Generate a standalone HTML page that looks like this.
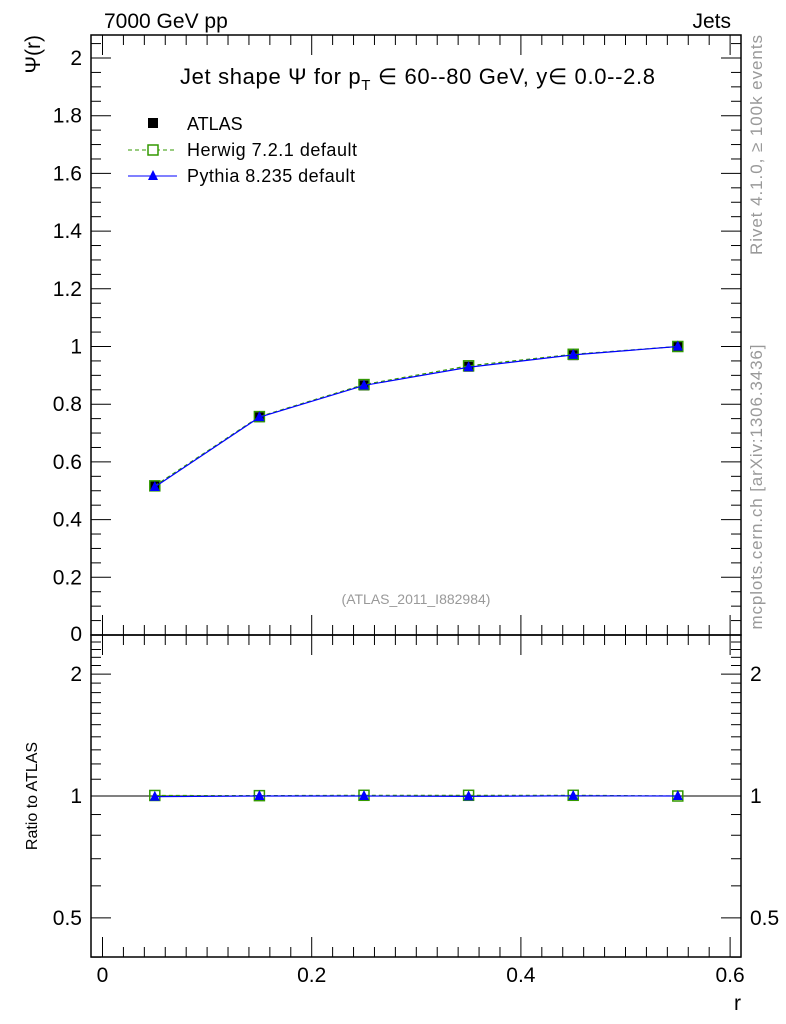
<!DOCTYPE html>
<html><head><meta charset="utf-8"><style>
body{margin:0;background:#fff;}
svg{display:block;font-family:"Liberation Sans",sans-serif;}
</style></head><body>
<svg id="c" width="786" height="1024">
<g id="g"></g>
</svg>
<script>
const rVals=[0.05,0.15,0.25,0.35,0.45,0.55];
const atlasVals=[0.515,0.755,0.865,0.93,0.97,1.0];
const herwigVals=[0.517,0.757,0.868,0.933,0.973,1.0];
const pythiaVals=[0.513,0.755,0.865,0.928,0.971,1.0];
const herwigRatio=[1.003,1.002,1.004,1.004,1.004,1.0];
const pythiaRatio=[0.996,1.0,1.0,0.998,1.001,1.0];
const xTicks=[0,0.2,0.4,0.6];
const yTicks=[0.2,0.4,0.6,0.8,1,1.2,1.4,1.6,1.8,2];
const rTicks=[0.5,1,2];

const NS="http://www.w3.org/2000/svg";
const g=document.getElementById('g');
const L=91,R=741,T=35,M=635,B=957;
const X=v=>102.5+v*1046;
const Y=v=>635-v*288.5;
const YR=v=>796-Math.log10(v)*405;
function el(t,a,txt){const e=document.createElementNS(NS,t);for(const k in a)e.setAttribute(k,a[k]);if(txt!==undefined)e.textContent=txt;g.appendChild(e);return e;}

let e;
e=el('rect',{x:L,y:T,width:R-L,height:M-T,fill:'none',stroke:'#000','stroke-width':1.5});

e=el('rect',{x:L,y:M,width:R-L,height:B-M,fill:'none',stroke:'#000','stroke-width':1.5});


for(let v=0;v<=0.6001;v+=0.02){
  const major=Math.abs(v*10-Math.round(v*10))<1e-6 && Math.round(v*10)%2==0;
  const len=major?20:10;const x=X(v);
  el('line',{x1:x,y1:M,x2:x,y2:M-len,stroke:'#000'});
  el('line',{x1:x,y1:T,x2:x,y2:T+len,stroke:'#000'});
  el('line',{x1:x,y1:B,x2:x,y2:B-len,stroke:'#000'});
  el('line',{x1:x,y1:M,x2:x,y2:M+len,stroke:'#000'});
}
xTicks.forEach(v=>{e=el('text',{x:X(v),y:982,'font-size':21,'text-anchor':'middle'},String(v));
});
e=el('text',{x:741,y:1010,'font-size':21,'text-anchor':'end'},'r');


for(let v=0;v<=2.081;v+=0.05){
  const major=Math.abs(v*5-Math.round(v*5))<1e-6;const len=major?20:10;const y=Y(v);
  el('line',{x1:L,y1:y,x2:L+len,y2:y,stroke:'#000'});
  el('line',{x1:R,y1:y,x2:R-len,y2:y,stroke:'#000'});
}
yTicks.forEach(v=>{e=el('text',{x:82,y:Y(v)+7,'font-size':21,'text-anchor':'end'},String(v));
});
e=el('text',{x:82,y:641,'font-size':21,'text-anchor':'end'},'0');

e=el('text',{x:0,y:0,'font-size':21,'text-anchor':'end',transform:'translate(40,35) rotate(-90)'},'Ψ(r)');


for(let v=0.4;v<=2.5;v+=0.1){
  const major=[0.5,1,2].some(m=>Math.abs(m-v)<1e-6);const len=major?20:10;const y=YR(v);
  el('line',{x1:L,y1:y,x2:L+len,y2:y,stroke:'#000'});
  el('line',{x1:R,y1:y,x2:R-len,y2:y,stroke:'#000'});
}
rTicks.forEach(v=>{
  e=el('text',{x:82,y:YR(v)+7,'font-size':21,'text-anchor':'end'},String(v));
  
  e=el('text',{x:750,y:YR(v)+7,'font-size':21},String(v));
  
});
e=el('text',{x:0,y:0,'font-size':16,'text-anchor':'middle',transform:'translate(37,796) rotate(-90)'},'Ratio to ATLAS');

el('line',{x1:L,y1:YR(1),x2:R,y2:YR(1),stroke:'#000'});

e=el('text',{x:104,y:28,'font-size':21},'7000 GeV pp');
e=el('text',{x:731,y:28,'font-size':21,'text-anchor':'end'},'Jets');
e=el('text',{x:180,y:84,'font-size':22,textLength:475,lengthAdjust:'spacing'});
e.innerHTML='Jet shape Ψ for p<tspan font-size="15" dy="6">T</tspan><tspan dy="-6"> ∈ 60--80 GeV, y∈ 0.0--2.8</tspan>';

e=el('text',{x:416,y:604,'font-size':14,fill:'#999','text-anchor':'middle'},'(ATLAS_2011_I882984)');

e=el('text',{x:0,y:0,'font-size':17,fill:'#999','text-anchor':'middle',textLength:220,transform:'translate(762,145) rotate(-90)'},'Rivet 4.1.0, ≥ 100k events');

e=el('text',{x:0,y:0,'font-size':17,fill:'#999','text-anchor':'middle',textLength:285,transform:'translate(762,487) rotate(-90)'},'mcplots.cern.ch [arXiv:1306.3436]');


e=el('rect',{x:148,y:118,width:10,height:10,fill:'#000'});
e=el('text',{x:187,y:130,'font-size':18},'ATLAS');
el('line',{x1:128,y1:150,x2:177,y2:150,stroke:'#339900','stroke-dasharray':'4,3'});
e=el('rect',{x:148,y:145,width:10,height:10,fill:'#fff',stroke:'#339900','stroke-width':1.5});
e=el('text',{x:187,y:156,'font-size':18,textLength:170},'Herwig 7.2.1 default');
el('line',{x1:128,y1:176,x2:177,y2:176,stroke:'#0000ff'});
e=el('polygon',{points:'153,170 158,180 148,180',fill:'#0000ff'});
e=el('text',{x:187,y:182,'font-size':18,textLength:168},'Pythia 8.235 default');

function series(vals,Yf,name,color,dash,marker){
  const pts=rVals.map((r,i)=>X(r)+','+Yf(vals[i])).join(' ');
  if(color){e=el('polyline',{points:pts,fill:'none',stroke:color,'stroke-width':1.2,'stroke-dasharray':dash||'none'});
  }
  rVals.forEach((r,i)=>{const x=X(r),y=Yf(vals[i]);
    if(marker=='fsq'){e=el('rect',{x:x-5,y:y-5,width:10,height:10,fill:'#000'});}
    else if(marker=='osq'){e=el('rect',{x:x-5,y:y-5,width:10,height:10,fill:'none',stroke:'#339900','stroke-width':1.5});}
    else {e=el('polygon',{points:`${x},${y-6} ${x+5},${y+4} ${x-5},${y+4}`,fill:'#0000ff'});}
    
  });
}
series(atlasVals,Y,'atlas',null,null,'fsq');
series(herwigVals,Y,'herwig','#339900','4,3','osq');
series(pythiaVals,Y,'pythia','#0000ff',null,'tri');
series(herwigRatio,YR,'herwig-ratio','#339900','4,3','osq');
series(pythiaRatio,YR,'pythia-ratio','#0000ff',null,'tri');
</script>
</body></html>
